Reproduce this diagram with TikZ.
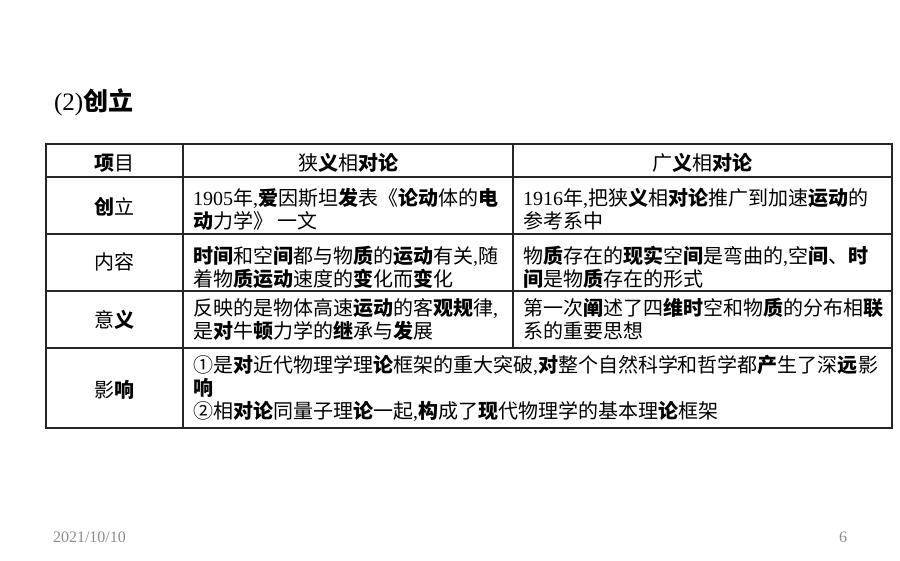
\documentclass[tikz,border=0pt]{standalone}
\usepackage{fontspec}
\setmainfont{Liberation Serif}
\newfontfamily\cjk{Noto Sans CJK SC}
\newcommand{\bz}[1]{{\bfseries #1}}
\begin{document}
\begin{tikzpicture}[x=1pt, y=-1pt]
\tikzset{ inner sep=0pt, outer sep=0pt,
  rule/.style={line width=1.2pt, black!85},
  cell/.style={anchor=west, align=left, font=\cjk\fontsize{20}{23}\selectfont},
  head/.style={font=\cjk\fontsize{20}{23}\selectfont},
  foot/.style={font=\fontsize{16}{18}\selectfont, text=black!45},
}
\useasboundingbox (0,0) rectangle (900,561);
%\draw [lightgray, dashed](0,0) grid[step=50] (900,561);

\node [anchor=west, font=\fontsize{25}{28}\selectfont] (title) at (54,102) {(2)\cjk\bfseries 创立};

\draw [rule] (46,144) rectangle (892,428);
\draw [rule] (46,177) -- (892,177);
\draw [rule] (46,234) -- (892,234);
\draw [rule] (46,291) -- (892,291);
\draw [rule] (46,348) -- (892,348);
\draw [rule] (183,144) -- (183,428);
\draw [rule] (513,144) -- (513,348);

\node [head] (H1) at (114,163) {\bz{项}目};
\node [head] (H2) at (348,163) {狭\bz{义}相\bz{对论}};
\node [head] (H3) at (702,163) {广\bz{义}相\bz{对论}};

\node [head] (K1) at (114,207) {\bz{创}立};
\node [head] (K2) at (114,262) {内容};
\node [head] (K3) at (114,320) {意\bz{义}};
\node [head] (K4) at (114,390) {影\bz{响}};

\node [cell] (A1) at (193,209.5) {{\rmfamily 1905}年{\rmfamily ,}\bz{爱}因斯坦\bz{发}表《\bz{论动}体的\bz{电}\\
\bz{动}力学》 一文};
\node [cell] (B1) at (523,209.5) {{\rmfamily 1916}年{\rmfamily ,}把狭\bz{义}相\bz{对论}推广到加速\bz{运动}的\\
参考系中};

\node [cell] (A2) at (193,267) {\bz{时间}和空\bz{间}都与物\bz{质}的\bz{运动}有关{\rmfamily ,}随\\
着物\bz{质运动}速度的\bz{变}化而\bz{变}化};
\node [cell] (B2) at (523,267) {物\bz{质}存在的\bz{现实}空\bz{间}是弯曲的{\rmfamily ,}空\bz{间}、\bz{时}\\
\bz{间}是物\bz{质}存在的形式};

\node [cell] (A3) at (193,319.5) {反映的是物体高速\bz{运动}的客\bz{观规}律{\rmfamily ,}\\
是\bz{对}牛\bz{顿}力学的\bz{继}承与\bz{发}展};
\node [cell] (B3) at (523,319.5) {第一次\bz{阐}述了四\bz{维时}空和物\bz{质}的分布相\bz{联}\\
系的重要思想};

\node [cell] (A4) at (193,388) {①是\bz{对}近代物理学理\bz{论}框架的重大突破{\rmfamily ,}\bz{对}整个自然科学和哲学都\bz{产}生了深\bz{远}影\\
\bz{响}\\
②相\bz{对论}同量子理\bz{论}一起{\rmfamily ,}\bz{构}成了\bz{现}代物理学的基本理\bz{论}框架};

\node [foot, anchor=west] (date) at (53,537) {2021/10/10};
\node [foot] (page) at (843,537) {6};

\end{tikzpicture}
\end{document}
